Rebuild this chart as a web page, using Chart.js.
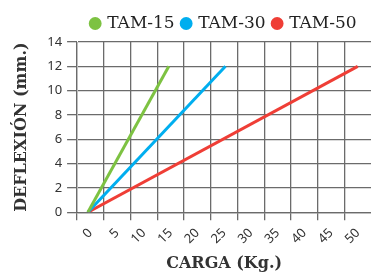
<!DOCTYPE html>
<html lang="es">
<head>
  <meta charset="UTF-8">
  <title>Deflexión vs carga</title>
  <script src="https://cdn.jsdelivr.net/npm/chart.js@4.4.0/dist/chart.umd.min.js"></script>
  <style>
    html, body { margin: 0; padding: 0; background: #fff; overflow: hidden; }
    canvas { display: block; }
  </style>
</head>
<body>
  <canvas id="deflexionChart" width="374" height="273"></canvas>

  <script>
    // etiquetas del eje X (carga, kg) y del eje Y (deflexión, mm)
    const cargaLabels = ['0', '5', '10', '15', '20', '25', '30', '35', '40', '45', '50'];
    const deflexionMax = 14;
    const deflexionStep = 2;

    // cada serie: carga (kg) y deflexión (mm)
    const tam15Carga = [0, 15];
    const tam15Deflexion = [0, 12];
    const tam30Carga = [0, 25.5];
    const tam30Deflexion = [0, 12];
    const tam50Carga = [0, 50];
    const tam50Deflexion = [0, 12];

    const seriesNames = ['TAM-15', 'TAM-30', 'TAM-50'];
    const seriesColors = ['#7dc242', '#00aeef', '#ef3e36'];

    const gridColor = '#6b6b6b';

    Chart.defaults.color = '#333';
    Chart.defaults.font.family = "'Noto Sans', sans-serif";
    Chart.defaults.font.size = 13;

    function toPoints(xs, ys) {
      return xs.map((x, i) => ({ x: x, y: ys[i] }));
    }

    const seriesData = [
      toPoints(tam15Carga, tam15Deflexion),
      toPoints(tam30Carga, tam30Deflexion),
      toPoints(tam50Carga, tam50Deflexion)
    ];

    new Chart(document.getElementById('deflexionChart'), {
      type: 'line',
      data: {
        datasets: seriesNames.map((name, i) => ({
          label: name,
          data: seriesData[i],
          xAxisID: 'xData',
          borderColor: seriesColors[i],
          backgroundColor: seriesColors[i],
          borderWidth: 3,
          pointRadius: 0
        }))
      },
      options: {
        responsive: false,
        animation: false,
        layout: { padding: { left: 12, right: 0, top: 7, bottom: 0 } },
        plugins: {
          tooltip: { enabled: false },
          legend: {
            fullSize: false,
            labels: {
              usePointStyle: true,
              pointStyle: 'circle',
              boxWidth: 7,
              boxHeight: 7,
              padding: 8,
              color: '#222',
              font: { family: "'DejaVu Serif', serif", size: 17 }
            }
          }
        },
        scales: {
          x: {
            type: 'category',
            labels: cargaLabels,
            offset: true,
            grid: { offset: true, color: gridColor, lineWidth: 1.3, tickLength: 8 },
            border: { color: gridColor, width: 1.3 },
            ticks: { minRotation: 45, maxRotation: 45, padding: 5 },
            title: {
              display: true,
              text: 'CARGA (Kg.)',
              font: { family: "'DejaVu Serif', serif", size: 16, weight: 'bold' },
              padding: { top: 2, bottom: 0 }
            }
          },
          xData: { type: 'linear', display: false, min: -2, max: 52.5 },
          y: {
            min: 0,
            max: deflexionMax,
            ticks: { stepSize: deflexionStep, padding: 5 },
            grid: { color: gridColor, lineWidth: 1.3, tickLength: 10 },
            title: {
              display: true,
              text: 'DEFLEXIÓN (mm.)',
              font: { family: "'DejaVu Serif', serif", size: 16, weight: 'bold' },
              padding: { top: 0, bottom: 11 }
            }
          }
        }
      }
    });
  </script>
</body>
</html>
